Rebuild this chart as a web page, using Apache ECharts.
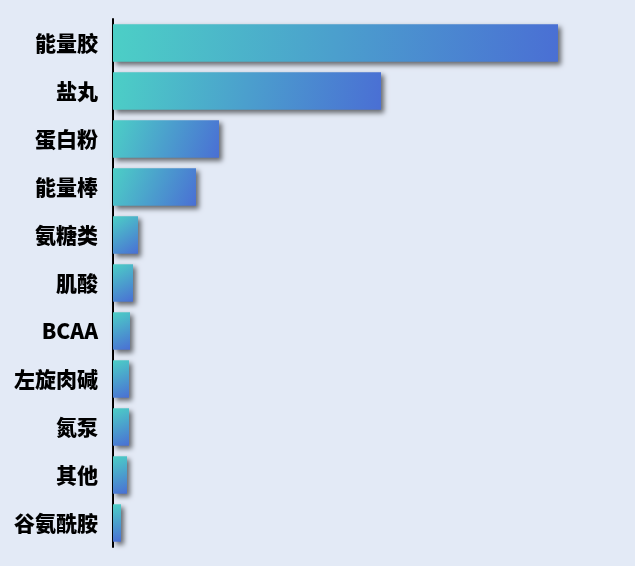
<!DOCTYPE html>
<html>
<head>
<meta charset="utf-8">
<script src="https://cdn.jsdelivr.net/npm/echarts@6/dist/echarts.min.js"></script>
<style>
html,body{margin:0;padding:0;background:#e3eaf6;}
#chart{width:635px;height:566px;}
</style>
</head>
<body>
<div id="chart"></div>
<script>
const categories = ['能量胶','盐丸','蛋白粉','能量棒','氨糖类','肌酸','BCAA','左旋肉碱','氮泵','其他','谷氨酰胺'];
const values = [44.5, 26.8, 10.6, 8.3, 2.5, 2.0, 1.7, 1.6, 1.6, 1.4, 0.8];

const chart = echarts.init(document.getElementById('chart'));
chart.setOption({
  backgroundColor: '#e3eaf6',
  animation: false,
  grid: { left: 113, right: 22, top: 19, bottom: 19, containLabel: false },
  xAxis: {
    type: 'value', min: 0, max: 50,
    show: false
  },
  yAxis: {
    type: 'category',
    data: categories,
    inverse: true,
    axisLine: { show: true, lineStyle: { color: '#000', width: 2 } },
    axisTick: { show: false },
    axisLabel: {
      color: '#000', fontSize: 21, fontWeight: 900,
      fontFamily: '"Noto Sans CJK SC", "Noto Sans", sans-serif',
      margin: 15
    }
  },
  series: [{
    type: 'bar',
    data: values,
    barCategoryGap: '22%',
    itemStyle: {
      color: new echarts.graphic.LinearGradient(0, 0, 1, 1, [
        { offset: 0, color: '#4ccfc6' },
        { offset: 1, color: '#4a6fd4' }
      ]),
      shadowColor: 'rgba(0,0,0,0.55)',
      shadowBlur: 5,
      shadowOffsetX: 3,
      shadowOffsetY: 3
    }
  }]
});
</script>
</body>
</html>
